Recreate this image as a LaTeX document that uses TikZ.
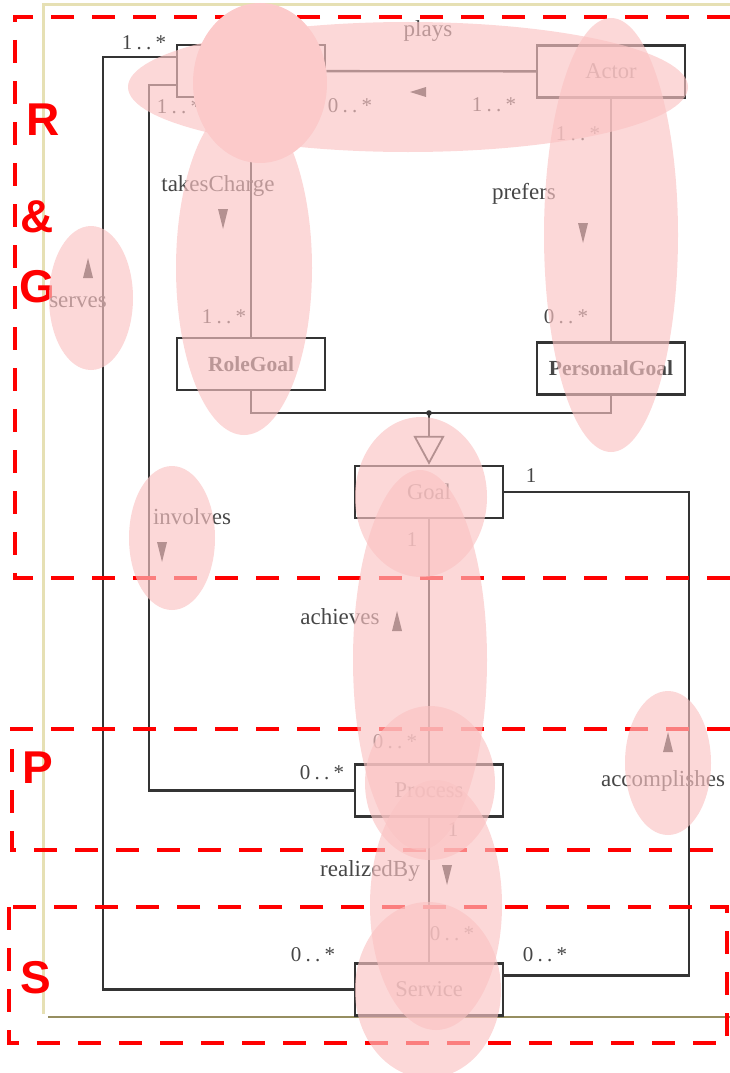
\documentclass[tikz,border=0pt]{standalone}
\usepackage{fontspec}
\setmainfont{Liberation Serif}
\newfontfamily\regionfont{Liberation Sans}
\newfontfamily\multfont[LetterSpace=20]{Liberation Serif}
\usetikzlibrary{arrows.meta}

\definecolor{umlgray}{RGB}{52,52,52}
\definecolor{labelgray}{RGB}{70,70,70}
\definecolor{framebeige}{RGB}{230,224,180}
\definecolor{frameolive}{RGB}{150,142,96}
\definecolor{blobpink}{RGB}{250,195,195}
\definecolor{cappink}{RGB}{252,202,202}

\tikzset{
  umlbox/.style={draw=umlgray, line width=2.5pt, minimum width=148pt, minimum height=52pt,
    inner sep=0pt, text=labelgray, font=\fontsize{22.5}{26}\selectfont},
  boldbox/.style={umlbox, font=\bfseries\fontsize{21.5}{26}\selectfont},
  assoc/.style={draw=umlgray, line width=2.3pt},
  role label/.style={text=labelgray, inner sep=0pt, font=\fontsize{23}{26}\selectfont},
  mult/.style={text=labelgray, inner sep=0pt, font=\multfont\fontsize{21}{24}\selectfont},
  region/.style={draw=red, line width=4.5pt, dash pattern=on 23pt off 18pt},
  region letter/.style={text=red, inner sep=0pt, font=\regionfont\bfseries\fontsize{46}{50}\selectfont},
  blob/.style={fill=blobpink, fill opacity=0.65},
  down mark/.pic={\fill[umlgray] (-5,-10) -- (5,-10) -- (0,10) -- cycle;},
  up mark/.pic={\fill[umlgray] (-5,10) -- (5,10) -- (0,-10) -- cycle;},
  left mark/.pic={\fill[umlgray] (8,-5) -- (8,5) -- (-8,0) -- cycle;},
}

\begin{document}
\begin{tikzpicture}[x=1pt, y=-1pt]
  \useasboundingbox (0,0) rectangle (730,1073);

  % frame of the screenshot
  \draw[framebeige, line width=3pt] (730,5) -- (43,5) -- (43,1014);
  \draw[frameolive, line width=2pt] (48,1017) -- (730,1017);

  % classes
  \node[umlbox] (role) at (251,71) {};
  \node[umlbox] (actor) at (611,71.5) {Actor};
  \node[boldbox] (roleGoal) at (251,364) {RoleGoal};
  \node[boldbox] (personalGoal) at (611,368.5) {PersonalGoal};
  \node[umlbox] (goal) at (429,492) {Goal};
  \node[umlbox] (process) at (429,790.5) {Process};
  \node[umlbox] (service) at (429,989.5) {Service};

  % associations
  \draw[assoc] (role) -- (actor);
  \draw[assoc] ([yshift=14pt]role.west) -- ++(-73,0) |- (service.west);
  \draw[assoc] ([yshift=-14pt]role.west) -- ++(-27,0) |- (process.west);
  \draw[assoc] (role) -- (roleGoal);
  \draw[assoc] (actor) -- (personalGoal);
  \draw[assoc] (goal) -- (process);
  \draw[assoc] (process) -- (service);
  \draw[assoc] (goal.east) -- ++(185,0) |- ([yshift=14pt]service.east);

  % generalization
  \coordinate (gen) at (429,413);
  \draw[assoc] (roleGoal) |- (gen) -| (personalGoal);
  \fill[umlgray] (gen) circle (2.8pt);
  \draw[assoc, line width=1.8pt, -{Triangle[open, length=29pt, width=31pt]}] (gen) -- (goal);

  % association names
  \node[role label] (playsLbl) at (428,31) {plays};
  \node[role label] (chargeLbl) at (218,186) {takesCharge};
  \node[role label] (prefersLbl) at (524,194) {prefers};
  \node[role label] (servesLbl) at (78,302) {serves};
  \node[role label] (involvesLbl) at (192,517) {involves};
  \node[role label] (achievesLbl) at (340,617) {achieves};
  \node[role label] (accompLbl) at (663,781) {accomplishes};
  \node[role label] (realizedLbl) at (370,871) {realizedBy};
  \pic at (418,92) {left mark};
  \pic at (223,219) {down mark};
  \pic at (583,233) {down mark};
  \pic at (88,268) {up mark};
  \pic at (162,552) {down mark};
  \pic at (397,621) {up mark};
  \pic at (668,742) {up mark};
  \pic at (447,875) {down mark};

  % multiplicities
  \node[mult] at (144,43) {1..*};
  \node[mult] at (179,107) {1..*};
  \node[mult] at (350,106) {0..*};
  \node[mult] at (494,105) {1..*};
  \node[mult] at (578,134) {1..*};
  \node[mult] at (566,317) {0..*};
  \node[mult] at (224,317) {1..*};
  \node[mult] at (531,476) {1};
  \node[mult] at (412,540) {1};
  \node[mult] at (395,742) {0..*};
  \node[mult] at (322,773) {0..*};
  \node[mult] at (453,830) {1};
  \node[mult] at (452,934) {0..*};
  \node[mult] at (545,955) {0..*};
  \node[mult] at (313,955) {0..*};

  % layers
  \draw[region] (730,17) -- (15,17) -- (15,578) -- (730,578);
  \draw[region] (730,729) -- (12,729) -- (12,850) -- (730,850);
  \draw[region] (9,907) rectangle (727,1043);
  \node[region letter] (rLetter) at (43,120) {R};
  \node[region letter] (ampLetter) at (37,217) {\&};
  \node[region letter] (gLetter) at (37,287) {G};
  \node[region letter] (pLetter) at (38,768) {P};
  \node[region letter] (sLetter) at (36,978) {S};

  % highlights
  \fill[blob] (408,87) ellipse [x radius=280pt, y radius=65pt];
  \fill[blob] (244,268) ellipse [x radius=68pt, y radius=167pt];
  \fill[blob] (611,235) ellipse [x radius=67pt, y radius=217pt];
  \fill[blob] (91,298) ellipse [x radius=42pt, y radius=72pt];
  \fill[blob] (172,538) ellipse [x radius=43pt, y radius=72pt];
  \fill[blob] (421,497) ellipse [x radius=66pt, y radius=80pt];
  \fill[blob] (420,660) ellipse [x radius=67pt, y radius=190pt];
  \fill[blob] (430,783) ellipse [x radius=65pt, y radius=77pt];
  \fill[blob] (436,905) ellipse [x radius=66pt, y radius=125pt];
  \fill[blob] (428,990) ellipse [x radius=73pt, y radius=88pt];
  \fill[blob] (668,763) ellipse [x radius=43pt, y radius=72pt];
  \fill[cappink] (260,83) ellipse [x radius=67pt, y radius=80pt];
\end{tikzpicture}
\end{document}
